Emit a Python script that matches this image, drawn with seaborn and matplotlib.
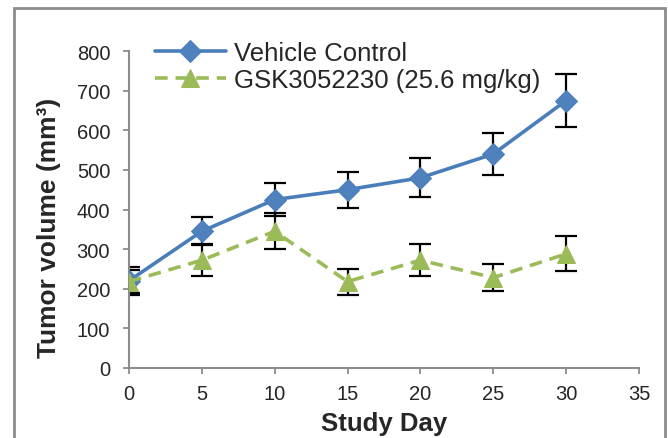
import matplotlib
matplotlib.use("Agg")
import matplotlib.pyplot as plt
import seaborn as sns
import pandas as pd
from matplotlib.patches import Rectangle

# data
days = [0, 5, 10, 15, 20, 25, 30]
vehicle_mean = [220, 345, 425, 450, 480, 540, 675]
vehicle_err = [35, 35, 42, 45, 49, 54, 67]
gsk_mean = [218, 272, 345, 218, 272, 228, 288]
gsk_err = [30, 40, 45, 33, 40, 34, 44]
series_names = ["Vehicle Control", "GSK3052230 (25.6 mg/kg)"]
x_ticks = [0, 5, 10, 15, 20, 25, 30, 35]
y_ticks = [0, 100, 200, 300, 400, 500, 600, 700, 800]

sns.set_style("white")
plt.rcParams["font.family"] = ["Liberation Sans", "DejaVu Sans"]

df = pd.DataFrame({
    "day": days + days,
    "volume": vehicle_mean + gsk_mean,
    "err": vehicle_err + gsk_err,
    "group": [series_names[0]] * len(days) + [series_names[1]] * len(days),
})

blue = "#4A7EBB"
green = "#9BBB59"
grey = "#8C8C8C"

fig = plt.figure(figsize=(6.68, 4.39), dpi=100)
ax = fig.add_axes([0.193, 0.1595, 0.7636, 0.722])

# error bars behind the markers
for name in series_names:
    sub = df[df["group"] == name]
    ax.errorbar(sub["day"], sub["volume"], yerr=sub["err"], fmt="none",
                ecolor="black", elinewidth=1.6, capsize=8, capthick=1.6, zorder=2)

sns.lineplot(data=df[df["group"] == series_names[0]], x="day", y="volume",
             ax=ax, color=blue, linewidth=2.6, marker="D", markersize=11,
             markerfacecolor="#4F81BD", markeredgecolor=blue,
             label=series_names[0], zorder=3)
sns.lineplot(data=df[df["group"] == series_names[1]], x="day", y="volume",
             ax=ax, color=green, linewidth=2.6, linestyle=(0, (3.5, 2.2)),
             marker="^", markersize=13, markerfacecolor=green,
             markeredgecolor=green, label=series_names[1], zorder=3)

ax.set_xlim(0, 35)
ax.set_ylim(0, 800)
ax.set_xticks(x_ticks)
ax.set_yticks(y_ticks)
ax.tick_params(axis="both", labelsize=14.5, length=4.5, width=1.3, color=grey,
               direction="out", bottom=True, left=True)
ax.tick_params(axis="x", pad=7)
ax.tick_params(axis="y", pad=9)
ax.set_xticklabels([str(t) for t in x_ticks])
ax.set_yticklabels([str(t) for t in y_ticks])
for side in ["top", "right"]:
    ax.spines[side].set_visible(False)
for side in ["left", "bottom"]:
    ax.spines[side].set_color(grey)
    ax.spines[side].set_linewidth(1.5)

ax.set_xlabel("Study Day", fontsize=18.5, fontweight="bold")
ax.xaxis.set_label_coords(0.5, -0.135)
ax.set_ylabel("Tumor volume (mm³)", fontsize=19, fontweight="bold")
ax.yaxis.set_label_coords(-0.133, 0.445)

leg = ax.legend(loc="upper left", bbox_to_anchor=(0.03, 1.065), frameon=False,
                fontsize=18.5, handlelength=2.8, handletextpad=0.3,
                labelspacing=0.12, borderaxespad=0)

# grey frame around the chart area
fig.patches.append(Rectangle((14 / 668, -0.05), 651 / 668, 1.05 - 9 / 439,
                             transform=fig.transFigure, fill=False,
                             edgecolor=grey, linewidth=2))

fig.savefig("out.png", dpi=100)
